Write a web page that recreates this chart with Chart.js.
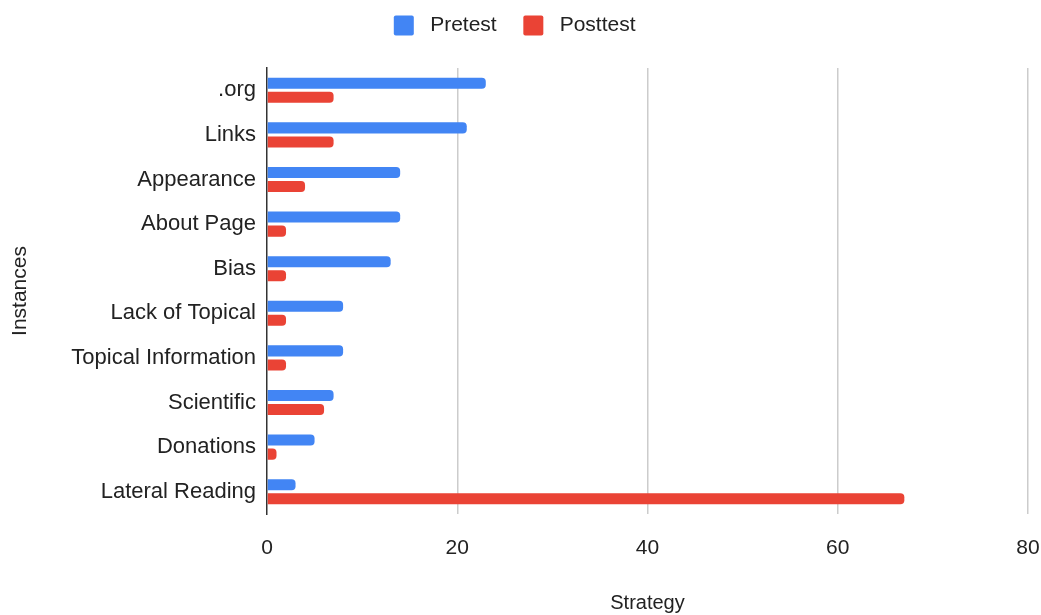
<!DOCTYPE html>
<html>
<head>
<meta charset="utf-8">
<script src="https://cdn.jsdelivr.net/npm/chart.js@4"></script>
<style>
  html, body { margin: 0; padding: 0; background: #fff; }
  #wrap { width: 1041px; height: 615px; }
</style>
</head>
<body>
<div id="wrap"><canvas id="chart"></canvas></div>
<script>
// strategy categories and counts
const categories = ['.org', 'Links', 'Appearance', 'About Page', 'Bias', 'Lack of Topical',
    'Topical Information', 'Scientific', 'Donations', 'Lateral Reading'];
const pretest = [23, 21, 14, 14, 13, 8, 8, 7, 5, 3];
const posttest = [7, 7, 4, 2, 2, 2, 2, 6, 1, 67];
const xTicks = [0, 20, 40, 60, 80];

Chart.defaults.font.family = '"Liberation Sans", Arial, sans-serif';
Chart.defaults.color = '#222';

const legendHeight = {
    id: 'legendHeight',
    beforeInit(chart) {
        const fit = chart.legend.fit;
        chart.legend.fit = function () {
            fit.bind(chart.legend)();
            this.height = 68;
        };
    }
};

const ctx = document.getElementById('chart').getContext('2d');
const chart = new Chart(ctx, {
    type: 'bar',
    data: {
        labels: categories,
        datasets: [{
            label: 'Pretest',
            data: pretest,
            backgroundColor: '#4285f4',
            borderRadius: 4,
            borderSkipped: 'start',
            categoryPercentage: 0.63,
            barPercentage: 0.79
        }, {
            label: 'Posttest',
            data: posttest,
            backgroundColor: '#ea4335',
            borderRadius: 4,
            borderSkipped: 'start',
            categoryPercentage: 0.63,
            barPercentage: 0.79
        }]
    },
    options: {
        indexAxis: 'y',
        responsive: true,
        maintainAspectRatio: false,
        animation: false,
        layout: { padding: { left: 0, right: 0, top: 0, bottom: 0 } },
        plugins: {
            legend: {
                position: 'top',
                labels: {
                    boxWidth: 20,
                    boxHeight: 20,
                    padding: 15,
                    font: { size: 21 },
                    useBorderRadius: true,
                    borderRadius: 2,
                    generateLabels(chart) {
                        const items = Chart.defaults.plugins.legend.labels.generateLabels(chart);
                        items.forEach(it => { it.text = ' ' + it.text + '  '; });
                        return items;
                    }
                }
            },
            tooltip: { enabled: false }
        },
        scales: {
            x: {
                min: 0,
                max: 80,
                afterBuildTicks(axis) {
                    axis.ticks = xTicks.map(v => ({ value: v }));
                },
                afterFit(axis) {
                    axis.height = 101;
                    axis.paddingRight = 13;
                },
                grid: {
                    color: ctx => ctx.tick && ctx.tick.value === 0 ? 'rgba(0,0,0,0)' : '#cccccc',
                    lineWidth: 1.5,
                    drawTicks: false
                },
                border: { display: false },
                ticks: { padding: 22, font: { size: 21 }, color: '#222' },
                title: {
                    display: true,
                    text: 'Strategy',
                    font: { size: 20 },
                    color: '#222',
                    padding: { top: 30, bottom: 0 }
                }
            },
            y: {
                afterFit(axis) { axis.width = 267; },
                grid: { display: false, drawTicks: false },
                border: { display: true, color: '#333', width: 1.5 },
                ticks: { padding: 11, font: { size: 22 }, color: '#222' },
                title: {
                    display: true,
                    text: 'Instances',
                    font: { size: 21 },
                    color: '#222',
                    padding: { top: 8, bottom: 0 }
                }
            }
        }
    },
    plugins: [legendHeight]
});
</script>
</body>
</html>
